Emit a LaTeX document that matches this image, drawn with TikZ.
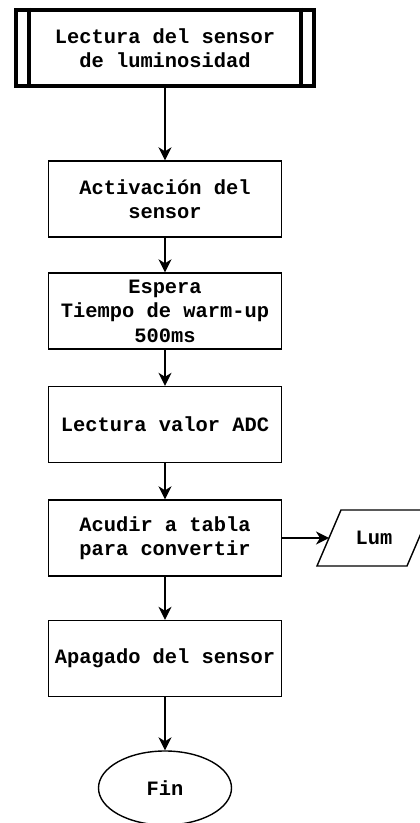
\documentclass[tikz,border=0pt]{standalone}
\usepackage{fontspec}
\setmonofont{Liberation Mono}
\usetikzlibrary{arrows.meta,shapes.geometric,calc}
\begin{document}
\begin{tikzpicture}[x=1pt,y=1pt,
  every node/.style={font=\fontsize{20.4}{24.5}\selectfont\ttfamily\bfseries, align=center, inner sep=0pt},
  procbox/.style={draw, line width=1.4pt, minimum width=233pt, minimum height=76pt},
  subproc/.style={draw, line width=4pt, minimum width=298pt, minimum height=76pt},
  terminal/.style={draw, ellipse, line width=1.4pt, minimum width=133pt, minimum height=74pt},
  flow/.style={line width=1.4pt, -{Stealth[length=13pt,width=13pt,inset=4pt]}}
]
\useasboundingbox (0,0) rectangle (420,823);

% subprocess start block with its double side bars
\node[subproc] (start) at (165,775) {Lectura del sensor\\de luminosidad};
\draw[line width=4.5pt] ($(start.north west)+(15,0)$) -- ($(start.south west)+(15,0)$);
\draw[line width=4.5pt] ($(start.north east)+(-15,0)$) -- ($(start.south east)+(-15,0)$);

% process steps
\node[procbox] (act) at (165,624) {Activación del\\sensor};
\node[procbox] (wait) at (165,512) {Espera\\Tiempo de warm-up\\500ms};
\node[procbox] (adc) at (165,398.5) {Lectura valor ADC};
\node[procbox] (conv) at (165,285) {Acudir a tabla\\para convertir};
\node[procbox] (off) at (165,164.5) {Apagado del sensor};
\node[terminal] (fin) at (165,35) {Fin};

% output data (parallelogram)
\node (lum) at (374,285) {Lum};
\draw[line width=1.4pt] ($(lum)+(-57,-28)$) -- ($(lum)+(33,-28)$) -- ($(lum)+(57,28)$) -- ($(lum)+(-33,28)$) -- cycle;
\coordinate (lumin) at ($(lum)+(-45,0)$);

% connectors
\draw[flow] (start) -- (act);
\draw[flow] (act) -- (wait);
\draw[flow] (wait) -- (adc);
\draw[flow] (adc) -- (conv);
\draw[flow] (conv) -- (off);
\draw[flow] (off) -- (fin);
\draw[flow] (conv.east) -- (lumin);
\end{tikzpicture}
\end{document}
